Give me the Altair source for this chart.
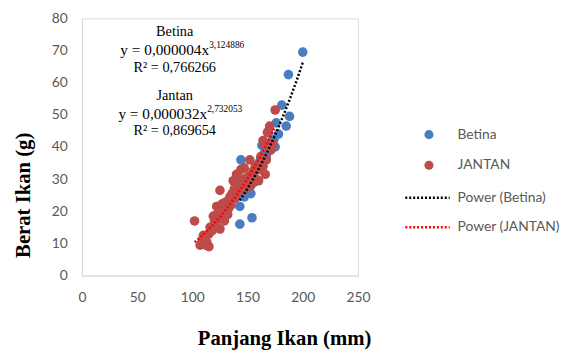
import altair as alt
import pandas as pd

# Betina (female) fish: length (mm), weight (g)
betina_x = [143, 143, 143, 144, 145, 146, 147, 148, 150, 152, 153, 154, 155, 156, 158,
            160, 162, 163, 165, 167, 170, 172, 174, 175, 176, 178, 181, 185, 188, 187, 200]
betina_y = [16, 21.5, 29.5, 36, 25, 27, 24.5, 30, 26, 28, 25.5, 18, 31.5, 29, 33,
            35, 36.5, 40.5, 38, 37, 39, 42, 42.5, 40, 47.5, 44, 53, 46.5, 49.5, 62.5, 69.5]

# Jantan (male) fish
jantan_x = [102, 107, 109, 110, 112, 113, 115, 115, 116, 118, 119, 120, 121, 122, 122,
            124, 125, 125, 126, 127, 128, 129, 130, 131, 132, 133, 134, 135, 136, 137,
            138, 139, 140, 141, 142, 144, 146, 147, 148, 150, 151, 152, 153, 155, 157,
            158, 160, 161, 162, 164, 164, 165, 166, 167, 168, 169, 170, 171, 173, 175]
jantan_y = [17, 9.5, 11, 12.5, 9.5, 10.5, 9, 13, 15, 14, 18.5, 17, 16, 21.5, 19,
            18, 14.5, 26.5, 22, 20, 22.5, 17, 19.5, 23, 19, 21, 24.5, 22, 25.5, 29.5,
            27, 24, 31.5, 28, 26, 33, 30, 33.5, 27, 29, 31, 36, 28, 32.5, 34,
            30, 29.5, 33, 37, 34, 42, 41, 31.5, 36, 44.5, 45, 46.5, 39, 41, 51.5]

series_names = ["Betina", "JANTAN"]
fit_names = ["Power (Betina)", "Power (JANTAN)"]
x_ticks = [0, 50, 100, 150, 200, 250]
y_ticks = [0, 10, 20, 30, 40, 50, 60, 70, 80]

center_text = ["Betina", "R² = 0,766266", "Jantan", "R² = 0,869654"]
center_x = [84, 84, 84, 84]
center_y = [75.7, 64.4, 55.8, 45.1]

eq_main = ["y = 0,000004x", "y = 0,000032x"]
eq_sup = ["3,124886", "2,732053"]
eq_x = [115.2, 113.4]
eq_y = [70.2, 50.3]

df = pd.DataFrame({
    "panjang": betina_x + jantan_x,
    "berat": betina_y + jantan_y,
    "sex": ["Betina"] * len(betina_x) + ["JANTAN"] * len(jantan_x),
})
center_df = pd.DataFrame({"panjang": center_x, "berat": center_y, "t": center_text})
eq_df = pd.DataFrame({"panjang": eq_x, "berat": eq_y, "main": eq_main, "sup": eq_sup})

BLUE = "#4A7DBF"
RED = "#BE4B48"
LABEL_FONT = "Lato"
SERIF = "Liberation Serif"

x_scale = alt.Scale(domain=[0, 250], nice=False)
y_scale = alt.Scale(domain=[0, 80], nice=False)

x_axis = alt.Axis(values=x_ticks, title="Panjang Ikan (mm)",
                  grid=False, ticks=False, labelPadding=15, labelFlush=False, labelOverlap=False,
                  domainColor="#D9D9D9", labelColor="#595959", labelFont=LABEL_FONT,
                  labelFontSize=14, titleFont=SERIF, titleFontSize=21, titleFontWeight="bold",
                  titleColor="#000000", titleX=205, titleY=64, titleBaseline="middle",
                  titleAlign="center")
y_axis = alt.Axis(values=y_ticks, title="Berat Ikan (g)",
                  grid=False, ticks=False, labelPadding=15, labelOverlap=False,
                  domainColor="#D9D9D9", labelColor="#595959", labelFont=LABEL_FONT,
                  labelFontSize=14, titleFont=SERIF, titleFontSize=21, titleFontWeight="bold",
                  titleColor="#000000", titleX=-59, titleY=179, titleBaseline="middle",
                  titleAlign="center", titleAngle=270)

X = alt.X("panjang:Q", scale=x_scale, axis=x_axis)
Y = alt.Y("berat:Q", scale=y_scale, axis=y_axis)

points = alt.Chart(df).mark_circle(size=95, opacity=1).encode(
    x=X, y=Y,
    color=alt.Color("sex:N", scale=alt.Scale(domain=series_names, range=[BLUE, RED]),
                    legend=alt.Legend(title=None, orient="none", legendX=345, legendY=111,
                                      padding=0, symbolType="circle", symbolSize=85,
                                      symbolStrokeWidth=0, clipHeight=14, rowPadding=17,
                                      labelOffset=22, labelFont=LABEL_FONT, labelFontSize=14,
                                      labelColor="#595959")),
)

lines = alt.Chart(df).transform_calculate(
    fit='"Power (" + datum.sex + ")"'
).transform_regression(
    "panjang", "berat", method="pow", groupby=["fit"]
).mark_line(strokeDash=[2, 2], strokeWidth=2.5).encode(
    x=X, y=Y,
    stroke=alt.Stroke("fit:N", scale=alt.Scale(domain=fit_names, range=["#000000", "#FF0000"]),
                      legend=alt.Legend(title=None, orient="none", legendX=326.5, legendY=175,
                                        padding=0, symbolType="stroke", symbolSize=2025,
                                        symbolDash=[2, 2], symbolStrokeWidth=2.5,
                                        clipHeight=14, rowPadding=16, labelOffset=6.5,
                                        labelFont=LABEL_FONT, labelFontSize=14,
                                        labelColor="#595959")),
)

center_txt = alt.Chart(center_df).mark_text(
    font=SERIF, fontSize=14.5, align="center", baseline="middle", color="#000000"
).encode(x=X, y=Y, text="t:N")

eq_txt = alt.Chart(eq_df).mark_text(
    font=SERIF, fontSize=15.5, align="right", baseline="middle", color="#000000"
).encode(x=X, y=Y, text="main:N")

sup_txt = alt.Chart(eq_df).mark_text(
    font=SERIF, fontSize=9.5, align="left", baseline="middle", dy=-5, color="#000000"
).encode(x=X, y=Y, text="sup:N")

chart = alt.layer(points, lines, center_txt, eq_txt, sup_txt).properties(
    width=280, height=261,
    autosize=alt.AutoSizeParams(type="none"),
    padding={"left": 75, "top": 8, "right": 211, "bottom": 75},
).configure_view(stroke=None).configure(background="#ffffff")

chart.save("out.html", embed_options={"renderer": "svg", "actions": False})
